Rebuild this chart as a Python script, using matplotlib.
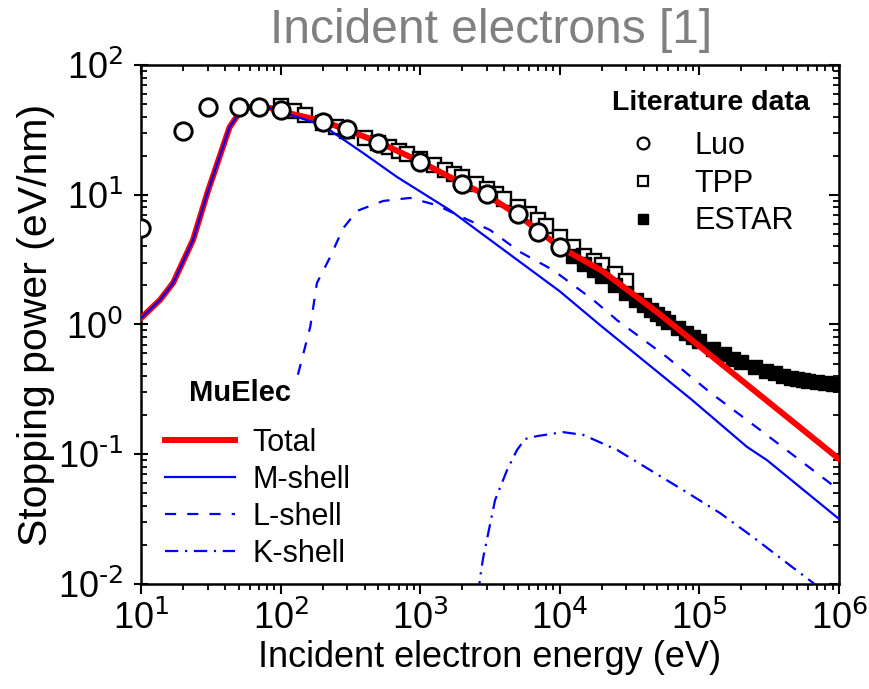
import numpy as np
import matplotlib
matplotlib.use('Agg')
import matplotlib.pyplot as plt
from matplotlib.lines import Line2D
from matplotlib.ticker import FuncFormatter

plt.rcParams['font.family'] = ['Liberation Sans', 'DejaVu Sans']
plt.rcParams['mathtext.default'] = 'regular'
plt.rcParams['axes.unicode_minus'] = False

# MuElec total and shell contributions (eV/nm)
E_total = [10, 13.7, 17, 23.6, 30, 43, 51, 60, 84, 104, 200, 300, 500, 1000,
           2000, 3000, 5000, 1e4, 2e4, 5e4, 1e5, 2e5, 5e5, 1e6]
S_total = [1.12, 1.55, 2.1, 4.5, 10.5, 33, 43.5, 47.4, 46.7, 43.5, 37, 31.5,
           25.5, 18, 12.2, 9.9, 7.0, 3.95, 2.6, 1.24, 0.68, 0.372, 0.168, 0.092]

E_m = [10, 13.7, 17, 23.6, 30, 43, 51, 60, 84, 104, 198, 389, 682, 1633,
       1e4, 19400, 88500, 219000, 305000, 1e6]
S_m = [1.12, 1.55, 2.1, 4.5, 10.5, 33, 43.5, 47.4, 46.5, 43, 34.5, 21, 13.7,
       7.6, 1.8, 0.99, 0.262, 0.114, 0.090, 0.0317]

E_l = [133, 163, 182, 226, 280, 352, 542, 846, 1318, 1837, 3160, 5190,
       8930, 17300, 25700, 58600, 119000, 272000, 1e6]
S_l = [0.41, 0.96, 2.09, 3.3, 5.5, 7.5, 8.95, 9.45, 8.3, 7.0, 5.35, 3.62,
       2.63, 1.55, 1.08, 0.56, 0.30, 0.154, 0.053]

E_k = [2500, 2680, 2820, 3435, 4190, 4940, 5630, 6870, 10550, 14700, 25700,
       44300, 76300, 140600, 242000, 397000, 652000, 1e6]
S_k = [0.005, 0.0111, 0.0158, 0.0443, 0.0756, 0.108, 0.131, 0.138, 0.148,
       0.141, 0.108, 0.0756, 0.053, 0.0352, 0.0230, 0.0153, 0.0102, 0.0068]

# Literature data
E_luo = [10, 20, 30, 50, 70, 100, 200, 300, 500, 1000, 2000, 3000, 5000, 7000, 10000]
S_luo = [5.5, 31, 47.5, 47.5, 47.5, 45, 36.4, 32, 25, 17.9, 12.1, 10.1, 7.1, 5.2, 3.95]

E_tpp = [100, 125, 150, 200, 250, 300, 400, 500, 600, 700, 800, 1000, 1250,
         1500, 1750, 2000, 2500, 3000, 3500, 4000, 5000, 6000, 7000, 8000,
         10000, 12500, 15000, 17500, 20000, 25000, 30000]
S_tpp = [48, 44, 41, 36, 33, 31, 27.5, 25, 23.2, 21.7, 20.5, 18.8, 17.0,
         15.6, 14.5, 13.6, 12.2, 11.0, 10.1, 9.3, 8.0, 7.1, 6.4, 5.75,
         4.75, 3.95, 3.35, 3.1, 2.85, 2.45, 2.15]

E_estar = [1e4, 1.25e4, 1.5e4, 1.75e4, 2e4, 2.5e4, 3e4, 3.5e4, 4e4, 4.5e4,
           5e4, 5.5e4, 6e4, 7e4, 8e4, 9e4, 1e5, 1.25e5, 1.5e5, 1.75e5, 2e5,
           2.5e5, 3e5, 3.5e5, 4e5, 4.5e5, 5e5, 5.5e5, 6e5, 7e5, 8e5, 9e5, 1e6]
S_estar = [3.95, 3.35, 2.93, 2.61, 2.37, 2.00, 1.74, 1.55, 1.41, 1.29,
           1.20, 1.12, 1.05, 0.94, 0.86, 0.80, 0.75, 0.65, 0.59, 0.54, 0.51,
           0.47, 0.44, 0.42, 0.40, 0.39, 0.38, 0.375, 0.37, 0.36, 0.355, 0.35, 0.35]

W, H = 869, 689
fig = plt.figure(figsize=(W / 100, H / 100), dpi=100)
ax = fig.add_axes([0.1623, 0.1524, 0.8032, 0.7533])

ax.plot(E_tpp, S_tpp, 's', ms=10, mfc='white', mec='black', mew=1.7, zorder=2)
ax.plot(E_estar, S_estar, 's', ms=10, mfc='black', mec='black', mew=1.0, zorder=2)
ax.plot(E_total, S_total, '-', color='red', lw=4.3, zorder=3)
ax.plot(E_m, S_m, '-', color='blue', lw=1.6, zorder=4)
ax.plot(E_l, S_l, color='blue', lw=1.6, ls=(0, (5, 5)), zorder=4)
ax.plot(E_k, S_k, color='blue', lw=1.6, ls=(0, (6, 3, 1, 3)), zorder=4)
ax.plot(E_luo, S_luo, 'o', ms=12.5, mfc='white', mec='black', mew=2.1, zorder=5)

ax.set_xscale('log')
ax.set_yscale('log')
ax.set_xlim(10, 1e6)
ax.set_ylim(1e-2, 1e2)

# power-of-ten labels with a plain hyphen for negative exponents
pow10 = FuncFormatter(lambda v, pos: '$10^{\\text{%d}}$' % round(np.log10(v)))
ax.xaxis.set_major_formatter(pow10)
ax.yaxis.set_major_formatter(pow10)

for s in ax.spines.values():
    s.set_linewidth(1.8)

ax.tick_params(axis='x', which='major', direction='out', length=7, width=1.5,
               labelsize=26, pad=5, top=False)
ax.tick_params(axis='x', which='minor', direction='out', length=4, width=1.3, top=False)
ax.tick_params(axis='y', which='major', direction='inout', length=10, width=1.5,
               labelsize=26, pad=8, right=False)
ax.tick_params(axis='y', which='minor', direction='in', length=4, width=1.3, right=False)

top = ax.secondary_xaxis('top')
top.tick_params(which='major', direction='in', length=7, width=1.5, labeltop=False)
top.tick_params(which='minor', direction='in', length=4, width=1.3)
top.xaxis.set_major_formatter(plt.NullFormatter())
top.xaxis.set_minor_formatter(plt.NullFormatter())
right = ax.secondary_yaxis('right')
right.tick_params(which='major', direction='in', length=7, width=1.5, labelright=False)
right.tick_params(which='minor', direction='in', length=4, width=1.3)
right.yaxis.set_major_formatter(plt.NullFormatter())
right.yaxis.set_minor_formatter(plt.NullFormatter())

ax.set_xlabel('Incident electron energy (eV)', fontsize=26, labelpad=2)
ax.set_ylabel('Stopping power (eV/nm)', fontsize=29.5, labelpad=2)
fig.text(0.565, 0.956, 'Incident electrons [1]', fontsize=34.5, color='#808080',
         ha='center', va='center')

# MuElec legend (title placed separately)
h1 = [Line2D([], [], color='red', lw=4.3),
      Line2D([], [], color='blue', lw=1.6),
      Line2D([], [], color='blue', lw=1.6, ls=(0, (5, 5))),
      Line2D([], [], color='blue', lw=1.6, ls=(0, (6, 3, 1, 3)))]
leg1 = ax.legend(h1, ['Total', 'M-shell', 'L-shell', 'K-shell'], loc='upper left',
                 bbox_to_anchor=(165 / W, 1 - 428 / H), bbox_transform=fig.transFigure,
                 borderaxespad=0, borderpad=0, frameon=False, fontsize=22,
                 handlelength=2.3, handletextpad=0.55, labelspacing=0.23)
ax.add_artist(leg1)
fig.text(240 / W, 1 - 393 / H, 'MuElec', fontsize=21, fontweight='bold',
         ha='center', va='center')

# Literature legend
h2 = [Line2D([], [], ls='none', marker='o', ms=8.5, mfc='white', mec='black', mew=1.6),
      Line2D([], [], ls='none', marker='s', ms=7.5, mfc='white', mec='black', mew=1.6),
      Line2D([], [], ls='none', marker='s', ms=7.5, mfc='black', mec='black')]
leg2 = ax.legend(h2, ['Luo', 'TPP', 'ESTAR'], loc='upper left',
                 bbox_to_anchor=(620 / W, 1 - 131 / H), bbox_transform=fig.transFigure,
                 borderaxespad=0, borderpad=0, frameon=False, fontsize=22,
                 handlelength=1.5, handletextpad=0.95, labelspacing=0.25)
fig.text(711 / W, 1 - 103 / H, 'Literature data', fontsize=20.5, fontweight='bold',
         ha='center', va='center')

fig.savefig('out.png', dpi=100)
